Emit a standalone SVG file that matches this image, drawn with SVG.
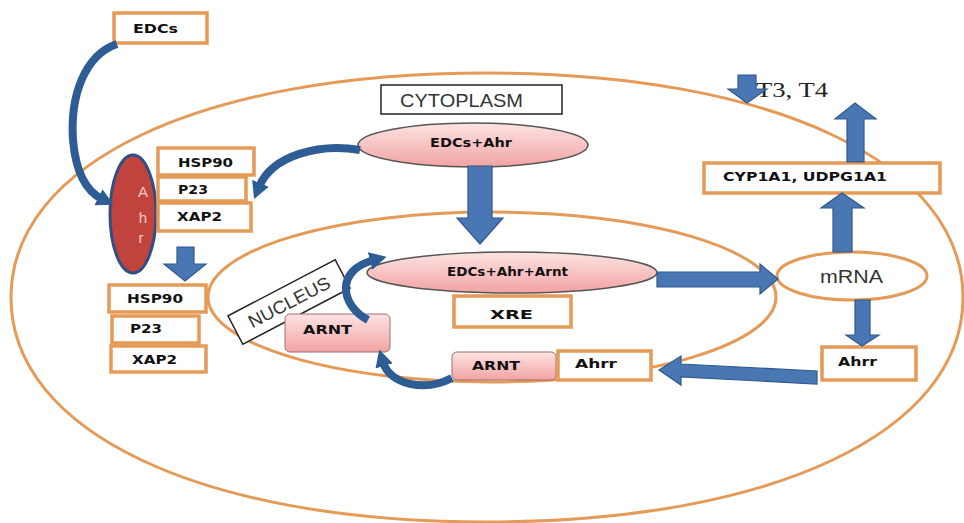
<svg xmlns="http://www.w3.org/2000/svg" width="964" height="523" viewBox="0 0 964 523">
<defs>
<linearGradient id="pink" x1="0" y1="0" x2="0" y2="1">
<stop offset="0" stop-color="#fde3e3"/>
<stop offset="1" stop-color="#f2a3a3"/>
</linearGradient>
<marker id="ah" markerUnits="userSpaceOnUse" markerWidth="20" markerHeight="20" refX="4" refY="10" orient="auto" viewBox="0 0 20 20">
<path d="M0,1 L17,10 L0,19 z" fill="#2e5d95"/>
</marker>
<style>
.obox{fill:#fff;stroke:#e59a57;stroke-width:3.5}
.oell{fill:none;stroke:#e59a57;stroke-width:3}
.pbox{fill:url(#pink);stroke:#9a7070;stroke-width:1}
.lbl{font-family:"DejaVu Sans",sans-serif;font-weight:bold;font-size:12px;fill:#111;text-anchor:middle}
.plain{font-family:"Liberation Sans",Arial,sans-serif;font-size:18px;fill:#333;text-anchor:middle}
.barrow{fill:#4a77b4;stroke:#2e5a8e;stroke-width:1.2}
.carrow{fill:none;stroke:#2e5d95;stroke-width:8}
</style>
</defs>
<rect width="964" height="523" fill="#fff"/>

<g id="cytoplasm">
<path class="oell" d="M963,297.5 C963,432.2 772.6,522 487,522 C201.4,522 11,432.2 11,297.5 C11,162.8 201.4,73 487,73 C772.6,73 963,162.8 963,297.5 Z"/>
</g>
<g id="nucleus">
<ellipse class="oell" cx="492" cy="297" rx="284" ry="85"/>
</g>

<g id="cytoplasm-label">
<rect x="381" y="85" width="181" height="29" fill="#fff" stroke="#222" stroke-width="1.5"/>
<text class="plain" x="461.5" y="106.5" textLength="123" lengthAdjust="spacingAndGlyphs">CYTOPLASM</text>
</g>

<g id="nucleus-label" transform="translate(289,302) rotate(-27.6)">
<rect x="-60.5" y="-16" width="121" height="32" fill="#fff" stroke="#222" stroke-width="1.5"/>
<text class="plain" x="0" y="6.5" textLength="90" lengthAdjust="spacingAndGlyphs">NUCLEUS</text>
</g>

<g id="edcs">
<rect class="obox" x="114" y="13" width="93" height="30"/>
<text class="lbl" x="155.5" y="32.5" textLength="45" lengthAdjust="spacingAndGlyphs">EDCs</text>
</g>

<g id="ahr">
<ellipse cx="133" cy="214" rx="23" ry="59" fill="#c0433e" stroke="#2f4f86" stroke-width="3"/>
<text x="143" y="197" font-family="Liberation Sans,Arial,sans-serif" font-size="15" fill="#f6c8c8" text-anchor="middle">A</text>
<text x="143" y="223" font-family="Liberation Sans,Arial,sans-serif" font-size="15" fill="#f6c8c8" text-anchor="middle">h</text>
<text x="141" y="243" font-family="Liberation Sans,Arial,sans-serif" font-size="15" fill="#f6c8c8" text-anchor="middle">r</text>
</g>

<g id="hsp90-a">
<rect class="obox" x="158" y="148" width="96" height="27"/>
<text class="lbl" x="205.5" y="166.5" textLength="55" lengthAdjust="spacingAndGlyphs">HSP90</text>
</g>
<g id="p23-a">
<rect class="obox" x="158" y="177" width="88" height="24"/>
<text class="lbl" x="193" y="193.5" textLength="30" lengthAdjust="spacingAndGlyphs">P23</text>
</g>
<g id="xap2-a">
<rect class="obox" x="158" y="203" width="93" height="28"/>
<text class="lbl" x="199.5" y="220.5" textLength="45" lengthAdjust="spacingAndGlyphs">XAP2</text>
</g>

<g id="hsp90-b">
<rect class="obox" x="109" y="285" width="97" height="27"/>
<text class="lbl" x="155" y="302.5" textLength="56" lengthAdjust="spacingAndGlyphs">HSP90</text>
</g>
<g id="p23-b">
<rect class="obox" x="112" y="316" width="87" height="27"/>
<text class="lbl" x="146" y="332.5" textLength="32" lengthAdjust="spacingAndGlyphs">P23</text>
</g>
<g id="xap2-b">
<rect class="obox" x="111" y="346" width="95" height="26"/>
<text class="lbl" x="154.5" y="363.5" textLength="45" lengthAdjust="spacingAndGlyphs">XAP2</text>
</g>

<g id="edcs-ahr">
<ellipse cx="473" cy="145" rx="115" ry="22" fill="url(#pink)" stroke="#555" stroke-width="1.5"/>
<text class="lbl" x="471" y="146.5" textLength="82" lengthAdjust="spacingAndGlyphs">EDCs+Ahr</text>
</g>

<g id="edcs-ahr-arnt">
<ellipse cx="512" cy="272.5" rx="145" ry="20.5" fill="url(#pink)" stroke="#555" stroke-width="1.5"/>
<text class="lbl" x="507.5" y="275.5" textLength="121" lengthAdjust="spacingAndGlyphs">EDCs+Ahr+Arnt</text>
</g>

<g id="xre">
<rect class="obox" x="454" y="296" width="117" height="31"/>
<text class="lbl" x="511.5" y="318.5" font-size="15" textLength="43" lengthAdjust="spacingAndGlyphs">XRE</text>
</g>

<g id="arnt-left">
<rect class="pbox" x="285" y="314" width="105" height="38" rx="5"/>
<text class="lbl" x="327.5" y="333.5" textLength="49" lengthAdjust="spacingAndGlyphs">ARNT</text>
</g>

<g id="arnt-bottom">
<rect class="pbox" x="452" y="352" width="104" height="28" rx="5"/>
<text class="lbl" x="496" y="369.5" textLength="48" lengthAdjust="spacingAndGlyphs">ARNT</text>
</g>
<g id="ahrr-bottom">
<rect class="obox" x="558" y="351" width="93" height="29"/>
<text class="lbl" x="596" y="367.5" textLength="42" lengthAdjust="spacingAndGlyphs">Ahrr</text>
</g>

<g id="mrna">
<ellipse cx="852" cy="276" rx="75" ry="24" fill="#fff" stroke="#e59a57" stroke-width="3"/>
<text class="plain" x="851.5" y="282.5" textLength="63" lengthAdjust="spacingAndGlyphs">mRNA</text>
</g>

<g id="ahrr-right">
<rect class="obox" x="822" y="347" width="94" height="33"/>
<text class="lbl" x="857.5" y="365.5" textLength="39" lengthAdjust="spacingAndGlyphs">Ahrr</text>
</g>

<g id="cyp">
<rect class="obox" x="704" y="163" width="236" height="30"/>
<text class="lbl" x="805" y="180.5" textLength="164" lengthAdjust="spacingAndGlyphs">CYP1A1, UDPG1A1</text>
</g>

<g id="t3t4">
<text x="792" y="97" font-family="Liberation Serif,'Times New Roman',serif" font-size="22" fill="#222" text-anchor="middle" textLength="72" lengthAdjust="spacingAndGlyphs">T3, T4</text>
</g>

<g id="connectors">
<path class="carrow" d="M117,44 C85,55 70,95 73,140 C76,175 88,192 102,199" marker-end="url(#ah)"/>
<path class="carrow" d="M360,150 C320,143 272,155 259,187" marker-end="url(#ah)"/>
<path class="carrow" d="M368,320 C340,305 335,270 374,260" marker-end="url(#ah)"/>
<path class="carrow" d="M452,378 C425,392 390,385 383,362" marker-end="url(#ah)"/>
<polygon class="barrow" points="177,247 194,247 194,264 206,264 185,281 164,264 177,264"/>
<polygon class="barrow" points="468,166 492,166 492,218 503,218 480,244 457,218 468,218"/>
<polygon class="barrow" points="657,272 760,272 760,264 778,279 760,294 760,287 657,287"/>
<polygon class="barrow" points="659,370 681,356 681,364 817,371 817,384 681,377 681,385"/>
<polygon class="barrow" points="855,300 870,300 870,335 879,335 862,346 846,335 855,335"/>
<polygon class="barrow" points="833,252 852,252 852,208 864,208 842,193 821,208 833,208"/>
<polygon class="barrow" points="847,162 847,119 835,119 855,103 876,119 864,119 864,162"/>
<polygon class="barrow" points="738,75 756,75 756,89 767,89 747,103 728,89 738,89"/>
</g>
</svg>
